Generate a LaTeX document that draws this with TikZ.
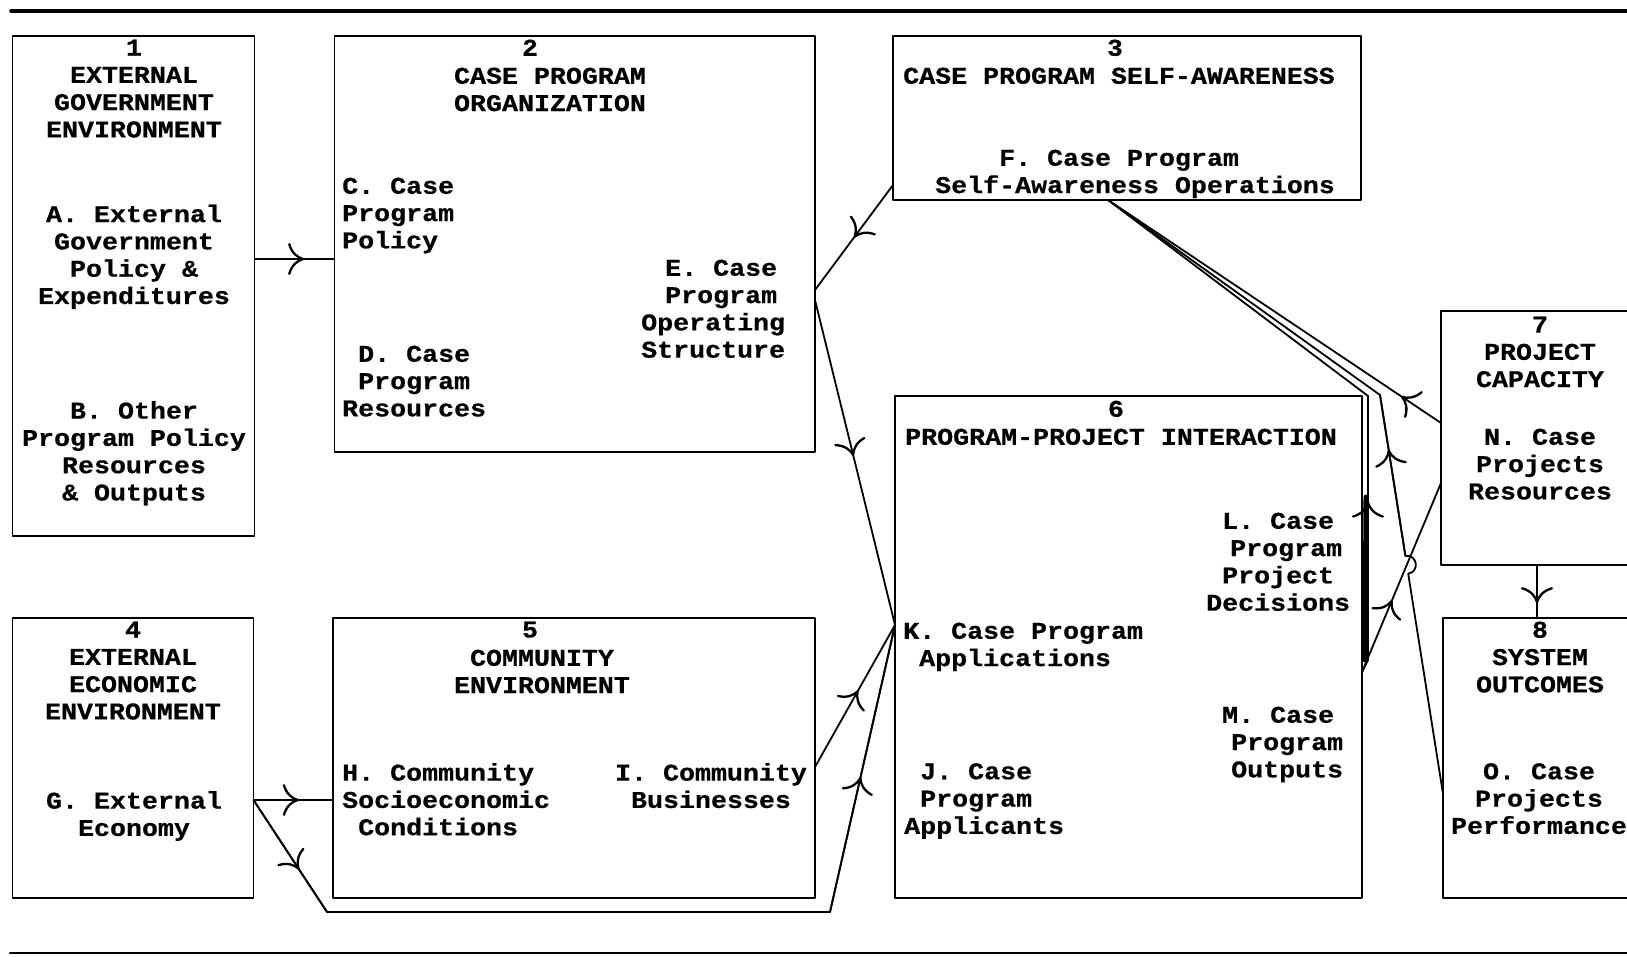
\documentclass[tikz,border=0pt]{standalone}
\usepackage{fontspec}
\newfontfamily\courfont[FakeStretch=1.11,FakeBold=0.6]{Liberation Mono}
\usetikzlibrary{arrows.meta,decorations.markings}
\newcommand\chsp{\phantom{X}}
\begin{document}
\begin{tikzpicture}[x=1pt,y=-1pt,
  line cap=round, line join=round,
  box/.style={draw, line width=1.8pt, inner sep=0pt, outer sep=0pt},
  txt/.style={font=\courfont\bfseries\fontsize{24}{27.3}\selectfont, inner sep=0pt, anchor=north, align=center},
  txl/.style={txt, align=left, anchor=north west},
  conn/.style={line width=1.8pt},
  >={Computer Modern Rightarrow[length=16pt,width=32pt,line width=2.3pt]},
  arr/.style={postaction={decorate}, decoration={markings, mark=at position #1 with {\arrow{>}}}},
]
\useasboundingbox (0,0) rectangle (1627,957);
\clip (0,0) rectangle (1627,957);

% rules
\draw[line width=3.5pt] (11,11) -- (1627,11);
\draw[line width=2.5pt] (10,953) -- (1627,953);

% boxes
\node[box, minimum width=242pt, minimum height=500pt] (b1) at (133.5,286) {};
\node[box, minimum width=480.5pt, minimum height=416pt] (b2) at (574.75,244) {};
\node[box, minimum width=468pt, minimum height=164pt] (b3) at (1127,118) {};
\node[box, minimum width=241pt, minimum height=280pt] (b4) at (133,758) {};
\node[box, minimum width=482pt, minimum height=280pt] (b5) at (574,758) {};
\node[box, minimum width=467pt, minimum height=502pt] (b6) at (1128.5,647) {};
\node[box, minimum width=219pt, minimum height=254pt] (b7) at (1550.5,438) {};
\node[box, minimum width=217pt, minimum height=280pt] (b8) at (1551.5,758) {};

% texts box 1
\node[txt] (t1) at (134,39.5) {1\\EXTERNAL\\GOVERNMENT\\ENVIRONMENT};
\node[txt] (tA) at (134,204.5) {A. External\\Government\\Policy \&\\Expenditures};
\node[txt] (tB) at (134,401) {B. Other\\Program Policy\\Resources\\\& Outputs};
% box 2
\node[txt] (t2n) at (530,39.5) {2};
\node[txt] (t2) at (550,67.5) {CASE PROGRAM\\ORGANIZATION};
\node[txl] (tC) at (342,177.5) {C. Case\\Program\\Policy};
\node[txl] (tD) at (342,345.5) {\chsp D. Case\\\chsp Program\\Resources};
\node[txl] (tE) at (641,259.5) {\hspace*{24pt}E. Case\\\hspace*{24pt}Program\\Operating\\Structure};
% box 3
\node[txt] (t3n) at (1115,39.5) {3};
\node[txt] (t3) at (1119,67.5) {CASE PROGRAM SELF-AWARENESS};
\node[txl] (tF) at (935,149.5) {\chsp\chsp\chsp\chsp F. Case Program\\Self-Awareness Operations};
% box 4
\node[txt] (t4) at (133,621.5) {4\\EXTERNAL\\ECONOMIC\\ENVIRONMENT};
\node[txt] (tG) at (134,791) {G. External\\Economy};
% box 5
\node[txt] (t5n) at (530,621.5) {5};
\node[txt] (t5) at (542,649.5) {COMMUNITY\\ENVIRONMENT};
\node[txl] (tH) at (342,763) {H. Community\\Socioeconomic\\\chsp Conditions};
\node[txt] (tI) at (711,763) {I. Community\\Businesses};
% box 6
\node[txt] (t6n) at (1116,400.5) {6};
\node[txt] (t6) at (1121,428.5) {PROGRAM-PROJECT INTERACTION};
\node[txl] (tL) at (1206,512.5) {\chsp L. Case\\\hspace*{24pt}Program\\\chsp Project\\Decisions};
\node[txl] (tK) at (903,622.5) {K. Case Program\\\chsp Applications};
\node[txl] (tM) at (1222,706.5) {M. Case\\\hspace*{9pt}Program\\\hspace*{9pt}Outputs};
\node[txl] (tJ) at (904,763) {\chsp J. Case\\\chsp Program\\Applicants};
% box 7
\node[txt] (t7) at (1540,316.5) {7\\PROJECT\\CAPACITY};
\node[txt] (tN) at (1540,428.5) {N. Case\\Projects\\Resources};
% box 8
\node[txt] (t8) at (1540,621.5) {8\\SYSTEM\\OUTCOMES};
\node[txt] (tO) at (1539,763) {O. Case\\Projects\\Performance};

% connector points
\coordinate (a1) at (254.5,259); \coordinate (a2) at (334.5,259);
\coordinate (G) at (253.5,800); \coordinate (H) at (333,800);
\coordinate (g1) at (327,912); \coordinate (g2) at (830,912);
\coordinate (K) at (895,625);
\coordinate (I) at (815,767);
\coordinate (F) at (893,185);
\coordinate (E1) at (815,290); \coordinate (E2) at (815,300);
\coordinate (S) at (1108,200);
\coordinate (Mp) at (1362,672);
\coordinate (m1) at (1368,660); \coordinate (m2) at (1368,396);
\coordinate (O) at (1443,794);
\coordinate (bb) at (1380,395);
\coordinate (P1) at (1405.4,555.9); \coordinate (P2) at (1408.2,573.7);
\coordinate (N1) at (1441,423);
\coordinate (N2) at (1441,483);
\coordinate (c7) at (1537,565); \coordinate (c8) at (1537,618);

% connectors
\draw[conn, arr=0.62] (a1) -- (a2);
\draw[conn, arr=0.57] (G) -- (H);
\draw[conn] (G) -- (g1) -- (g2) -- (K);
\draw[conn, arr=0.62] (G) -- (g1);
\draw[conn, arr=0.47] (g2) -- (K);
\draw[conn, arr=0.54] (I) -- (K);
\draw[conn, arr=0.5] (F) -- (E1);
\draw[conn, arr=0.48] (E2) -- (K);
\draw[conn] (Mp) -- (m1) -- (m2) -- (S);
\draw[line width=5pt] (1366,497) -- (1365,660);
\draw[conn, arr=0.6] (m1) -- (m2);
\draw[conn] (O) -- (P2) .. controls (1420,571.8) and (1417.3,554) .. (P1) -- (bb) -- (S);
\draw[conn, arr=0.66] (P1) -- (bb);
\draw[conn, arr=0.12] (N1) -- (S);
\draw[conn, arr=0.38] (Mp) -- (N2);
\draw[conn, arr=0.72] (c7) -- (c8);
\end{tikzpicture}
\end{document}
